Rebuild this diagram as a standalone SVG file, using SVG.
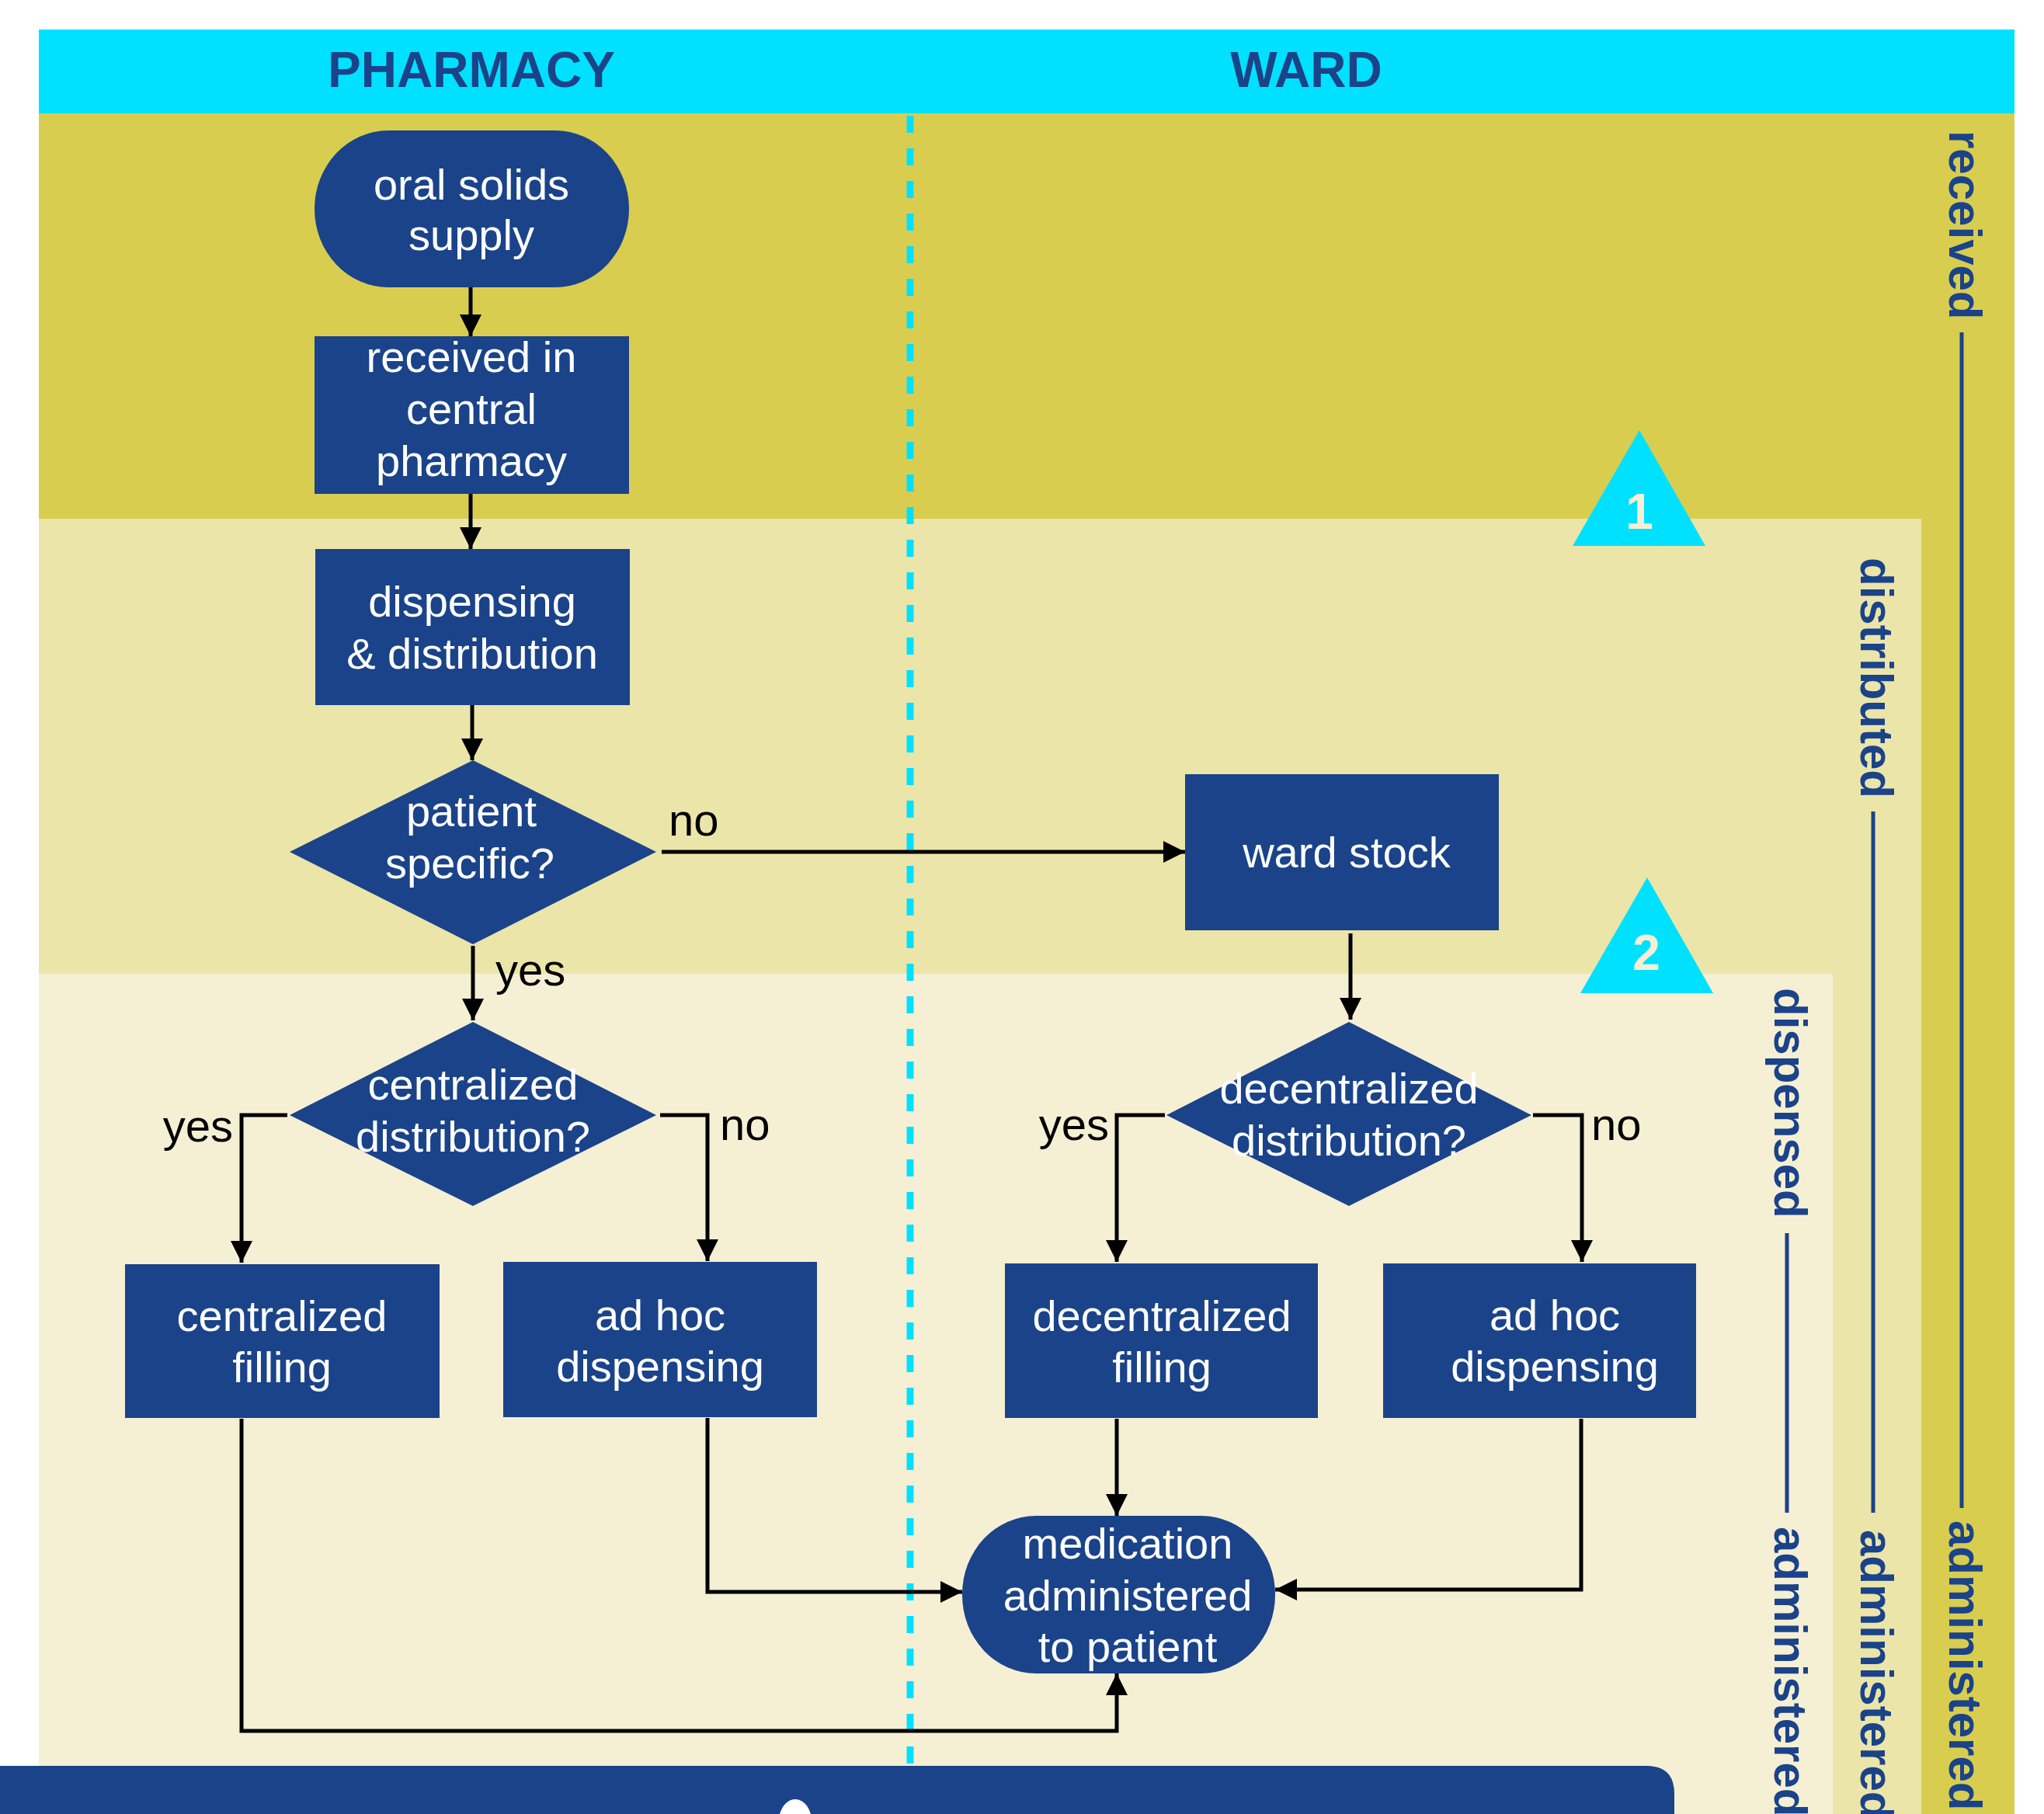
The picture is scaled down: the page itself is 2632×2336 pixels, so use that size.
<svg xmlns="http://www.w3.org/2000/svg" width="2632" height="2336" viewBox="0 0 2632 2336">
<defs>
<style>
.node{fill:#1a4389}
.nt{font-family:"Liberation Sans",Arial,sans-serif;font-size:56px;fill:#ffffff;text-anchor:middle}
.lbl{font-family:"Liberation Sans",Arial,sans-serif;font-size:58px;fill:#000000}
.hdr{font-family:"Liberation Sans",Arial,sans-serif;font-size:64px;font-weight:bold;fill:#1a4389;text-anchor:middle}
.side{font-family:"Liberation Sans",Arial,sans-serif;font-size:60px;font-weight:bold;fill:#1a4389}
.sline{stroke:#1a4389;stroke-width:5;fill:none}
.conn{stroke:#000000;stroke-width:5;fill:none;stroke-linejoin:miter}
.tri{fill:#00e1ff}
.num{font-family:"Liberation Sans",Arial,sans-serif;font-size:64px;font-weight:bold;fill:#f5efd4;text-anchor:middle}
</style>
<marker id="ah" viewBox="0 0 10 10" refX="10" refY="5" markerUnits="userSpaceOnUse" markerWidth="30" markerHeight="28" orient="auto">
<path d="M0,0 L10,5 L0,10 z" fill="#000000"/>
</marker>
</defs>
<rect x="0" y="0" width="2632" height="2336" fill="#ffffff"/>
<g id="background">
<rect x="50" y="146" width="2544" height="2190" fill="#d9cd50"/>
<rect x="50" y="668" width="2424" height="1668" fill="#ebe5a9"/>
<rect x="50" y="1254" width="2310" height="1082" fill="#f5efd4"/>
<rect x="50" y="38" width="2544" height="108" fill="#00e1ff"/>
<text class="hdr" x="607" y="112">PHARMACY</text>
<text class="hdr" x="1682" y="112">WARD</text>
<line x1="1172" y1="149" x2="1172" y2="2274" stroke="#00e1ff" stroke-width="9" stroke-dasharray="22 20"/>
</g>
<g id="stages">
<polygon class="tri" points="2111,554 2025,703 2196,703"/>
<text class="num" x="2111" y="681">1</text>
<polygon class="tri" points="2121,1130 2035,1279 2206,1279"/>
<text class="num" x="2120" y="1249">2</text>
<text class="side" transform="translate(2510,168) rotate(90)">received</text>
<line class="sline" x1="2526" y1="428" x2="2526" y2="1942"/>
<text class="side" transform="translate(2510,1958) rotate(90)">administered</text>
<text class="side" transform="translate(2396,718) rotate(90)">distributed</text>
<line class="sline" x1="2412" y1="1045" x2="2412" y2="1948"/>
<text class="side" transform="translate(2396,1970) rotate(90)">administered</text>
<text class="side" transform="translate(2285,1272) rotate(90)">dispensed</text>
<line class="sline" x1="2301" y1="1588" x2="2301" y2="1948"/>
<text class="side" transform="translate(2285,1966) rotate(90)">administered</text>
</g>
<g id="connectors">
<line class="conn" x1="606" y1="370" x2="606" y2="433" marker-end="url(#ah)"/>
<line class="conn" x1="606" y1="636" x2="606" y2="707" marker-end="url(#ah)"/>
<line class="conn" x1="608" y1="908" x2="608" y2="979" marker-end="url(#ah)"/>
<line class="conn" x1="852" y1="1097" x2="1526" y2="1097" marker-end="url(#ah)"/>
<line class="conn" x1="609" y1="1218" x2="609" y2="1314" marker-end="url(#ah)"/>
<polyline class="conn" points="370,1436 311,1436 311,1626" marker-end="url(#ah)"/>
<polyline class="conn" points="850,1436 911,1436 911,1624" marker-end="url(#ah)"/>
<line class="conn" x1="1739" y1="1202" x2="1739" y2="1313" marker-end="url(#ah)"/>
<polyline class="conn" points="1500,1436 1438,1436 1438,1625" marker-end="url(#ah)"/>
<polyline class="conn" points="1974,1436 2037,1436 2037,1625" marker-end="url(#ah)"/>
<line class="conn" x1="1438" y1="1827" x2="1438" y2="1952" marker-end="url(#ah)"/>
<polyline class="conn" points="911,1826 911,2050 1239,2050" marker-end="url(#ah)"/>
<polyline class="conn" points="2036,1827 2036,2047 1642,2047" marker-end="url(#ah)"/>
<polyline class="conn" points="311,1827 311,2229 1438,2229 1438,2155" marker-end="url(#ah)"/>
<text class="lbl" x="861" y="1076">no</text>
<text class="lbl" x="638" y="1269">yes</text>
<text class="lbl" x="300" y="1470" text-anchor="end">yes</text>
<text class="lbl" x="927" y="1468">no</text>
<text class="lbl" x="1428" y="1468" text-anchor="end">yes</text>
<text class="lbl" x="2049" y="1468">no</text>
</g>
<g id="n-oral-solids">
<rect class="node" x="405" y="168" width="405" height="202" rx="95" ry="101"/>
<text class="nt" x="607" y="257">oral solids</text>
<text class="nt" x="607" y="322">supply</text>
</g>
<g id="n-received">
<rect class="node" x="405" y="433" width="405" height="203"/>
<text class="nt" x="607" y="479">received in</text>
<text class="nt" x="607" y="546">central</text>
<text class="nt" x="607" y="613">pharmacy</text>
</g>
<g id="n-dispensing">
<rect class="node" x="406" y="707" width="405" height="201"/>
<text class="nt" x="608" y="794">dispensing</text>
<text class="nt" x="608" y="861">&amp; distribution</text>
</g>
<g id="n-patient-specific">
<polygon class="node" points="609,979 845,1097 609,1216 373,1097"/>
<text class="nt" x="607" y="1064">patient</text>
<text class="nt" x="605" y="1131">specific?</text>
</g>
<g id="n-ward-stock">
<rect class="node" x="1526" y="997" width="404" height="201"/>
<text class="nt" x="1734" y="1117">ward stock</text>
</g>
<g id="n-centralized-distribution">
<polygon class="node" points="609,1316 845,1436 609,1553 373,1436"/>
<text class="nt" x="609" y="1416">centralized</text>
<text class="nt" x="609" y="1483">distribution?</text>
</g>
<g id="n-decentralized-distribution">
<polygon class="node" points="1737,1316 1972,1436 1737,1553 1502,1436"/>
<text class="nt" x="1737" y="1421">decentralized</text>
<text class="nt" x="1737" y="1488">distribution?</text>
</g>
<g id="n-centralized-filling">
<rect class="node" x="161" y="1628" width="405" height="198"/>
<text class="nt" x="363" y="1714">centralized</text>
<text class="nt" x="363" y="1780">filling</text>
</g>
<g id="n-adhoc-pharmacy">
<rect class="node" x="648" y="1625" width="404" height="200"/>
<text class="nt" x="850" y="1713">ad hoc</text>
<text class="nt" x="850" y="1779">dispensing</text>
</g>
<g id="n-decentralized-filling">
<rect class="node" x="1294" y="1627" width="403" height="199"/>
<text class="nt" x="1496" y="1714">decentralized</text>
<text class="nt" x="1496" y="1780">filling</text>
</g>
<g id="n-adhoc-ward">
<rect class="node" x="1781" y="1627" width="403" height="199"/>
<text class="nt" x="2002" y="1713">ad hoc</text>
<text class="nt" x="2002" y="1779">dispensing</text>
</g>
<g id="n-medication">
<rect class="node" x="1239" y="1952" width="403" height="203" rx="95" ry="101"/>
<text class="nt" x="1452" y="2007">medication</text>
<text class="nt" x="1452" y="2074">administered</text>
<text class="nt" x="1452" y="2140">to patient</text>
</g>
<g id="footer">
<path d="M0,2274 H2120 Q2156,2274 2156,2310 V2336 H0 Z" fill="#1a4389"/>
<ellipse cx="1024" cy="2345" rx="21" ry="28" fill="#ffffff"/>
</g>
</svg>
